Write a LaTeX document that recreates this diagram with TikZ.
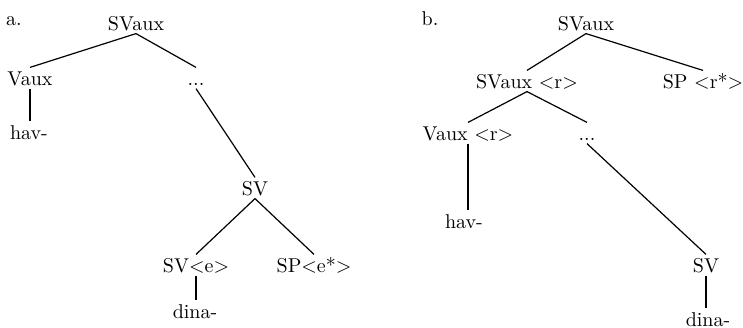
\documentclass[tikz,border=0pt]{standalone}
\tikzset{cat/.style={anchor=base,inner sep=1.5pt,text height=7pt,text depth=0pt,font=\normalsize},
 word/.style={cat},
 lbl/.style={anchor=base,inner sep=0pt,font=\normalsize}}
\newcommand{\branch}[2]{\draw (#1.south)--(#2.north);}
\newcommand{\stem}[2]{\draw (#1.south)--(#1.south|-#2.north);}
\begin{document}
\begin{tikzpicture}[x=0.5pt,y=-0.5pt,line width=0.6pt]
\useasboundingbox (0,0) rectangle (743,327);
% tree a.
\node[lbl](la) at(14,25){a.};
\node[cat](sa) at(136,30){SVaux};
\node[cat](va) at(30,85){Vaux};
\node[cat](da) at(196,85){...};
\node[word](ha) at(29,139){hav-};
\node[cat](sva) at(255,195){SV};
\node[cat](se) at(196,272){SV<e>};
\node[cat](pe) at(314,272){SP<e*>};
\node[word](dna) at(195,318){dina-};
\branch{sa}{va}\branch{sa}{da}
\stem{va}{ha}\branch{da}{sva}
\branch{sva}{se}\branch{sva}{pe}
\stem{se}{dna}
% tree b.
\node[lbl](lb) at(430,25){b.};
\node[cat](sb) at(586,30){SVaux};
\node[cat](sr) at(527,88){SVaux <r>};
\node[cat](pr) at(703,88){SP <r*>};
\node[cat](vr) at(468,140){Vaux <r>};
\node[cat](db) at(587,140){...};
\node[word](hb) at(464,228){hav-};
\node[cat](svb) at(706,272){SV};
\node[word](dnb) at(708,326){dina-};
\branch{sb}{sr}\branch{sb}{pr}
\branch{sr}{vr}\branch{sr}{db}
\stem{vr}{hb}\branch{db}{svb}
\stem{svb}{dnb}
\end{tikzpicture}
\end{document}
